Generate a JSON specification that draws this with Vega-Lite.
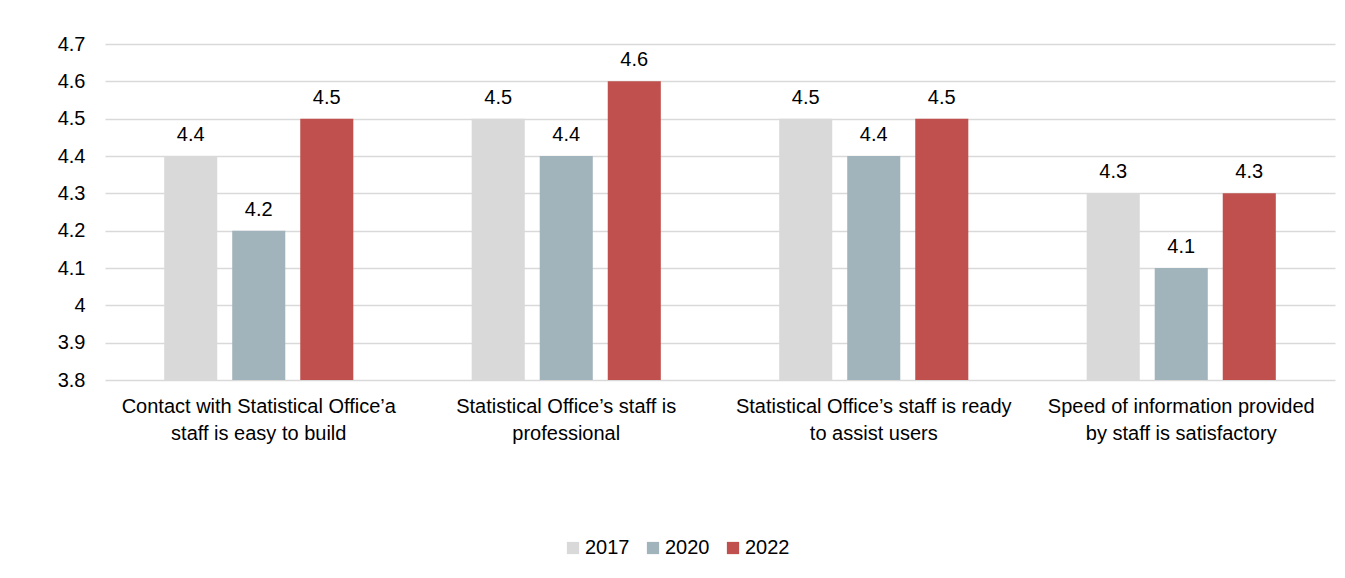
{
  "$schema": "https://vega.github.io/schema/vega-lite/v6.json",
  "width": 1230,
  "height": 336,
  "autosize": {"type": "none"},
  "padding": {"left": 105, "top": 44, "right": 10, "bottom": 198},
  "background": "white",
  "config": {
    "view": {"stroke": null},
    "font": "Liberation Sans",
    "axis": {"labelFont": "Liberation Sans", "labelColor": "#000000", "labelFontSize": 20},
    "legend": {"labelFont": "Liberation Sans", "labelColor": "#000000", "labelFontSize": 20}
  },
  "data": {
    "values": [
      {"category": "Contact with Statistical Office’a|staff is easy to build", "year": "2017", "value": 4.4},
      {"category": "Contact with Statistical Office’a|staff is easy to build", "year": "2020", "value": 4.2},
      {"category": "Contact with Statistical Office’a|staff is easy to build", "year": "2022", "value": 4.5},
      {"category": "Statistical Office’s staff is|professional", "year": "2017", "value": 4.5},
      {"category": "Statistical Office’s staff is|professional", "year": "2020", "value": 4.4},
      {"category": "Statistical Office’s staff is|professional", "year": "2022", "value": 4.6},
      {"category": "Statistical Office’s staff is ready|to assist users", "year": "2017", "value": 4.5},
      {"category": "Statistical Office’s staff is ready|to assist users", "year": "2020", "value": 4.4},
      {"category": "Statistical Office’s staff is ready|to assist users", "year": "2022", "value": 4.5},
      {"category": "Speed of information provided|by staff is satisfactory", "year": "2017", "value": 4.3},
      {"category": "Speed of information provided|by staff is satisfactory", "year": "2020", "value": 4.1},
      {"category": "Speed of information provided|by staff is satisfactory", "year": "2022", "value": 4.3}
    ]
  },
  "encoding": {
    "x": {
      "field": "category",
      "type": "nominal",
      "sort": null,
      "scale": {"paddingInner": 0, "paddingOuter": 0},
      "axis": {
        "title": null,
        "labelAngle": 0,
        "domain": false,
        "ticks": false,
        "labelPadding": 16,
        "labelLineHeight": 27,
        "labelBaseline": "top",
        "labelLimit": 400,
        "labelExpr": "split(datum.label, '|')"
      }
    },
    "xOffset": {
      "field": "year",
      "type": "nominal",
      "scale": {"paddingInner": 0.22, "paddingOuter": 0.87}
    },
    "y": {
      "field": "value",
      "type": "quantitative",
      "scale": {"domain": [3.8, 4.7], "nice": false, "zero": false},
      "axis": {
        "title": null,
        "values": [3.8, 3.9, 4.0, 4.1, 4.2, 4.3, 4.4, 4.5, 4.6, 4.7],
        "labelExpr": "format(datum.value, '.2~f')",
        "domain": false,
        "ticks": false,
        "labelPadding": 20,
        "grid": true,
        "gridColor": "#d9d9d9",
        "gridWidth": 1.5
      }
    }
  },
  "layer": [
    {
      "mark": {"type": "bar", "clip": true},
      "encoding": {
        "color": {
          "field": "year",
          "type": "nominal",
          "scale": {"domain": ["2017", "2020", "2022"], "range": ["#D9D9D9", "#A2B4BB", "#C0504D"]},
          "legend": {
            "title": null,
            "orient": "none",
            "direction": "horizontal",
            "legendX": 458,
            "legendY": 494,
            "symbolType": "square",
            "symbolSize": 150,
            "symbolStrokeWidth": 0,
            "labelOffset": 2,
            "columnPadding": 13
          }
        }
      }
    },
    {
      "mark": {"type": "text", "baseline": "alphabetic", "dy": -15, "fontSize": 20, "color": "#000000", "font": "Liberation Sans"},
      "encoding": {
        "text": {"field": "value", "type": "quantitative", "format": ".1~f"}
      }
    }
  ]
}
